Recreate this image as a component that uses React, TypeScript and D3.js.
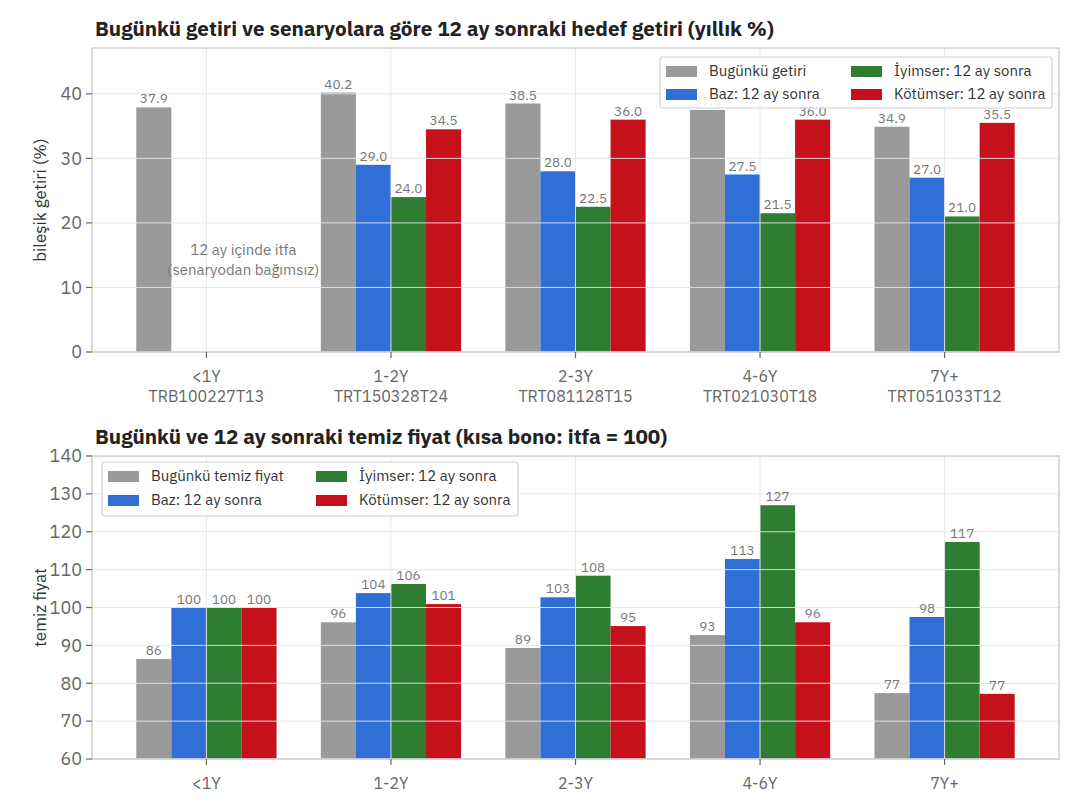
import { useEffect, useRef } from 'react';
import * as d3 from 'd3';

const categories = ['<1Y', '1-2Y', '2-3Y', '4-6Y', '7Y+'];
const bondCodes = ['TRB100227T13', 'TRT150328T24', 'TRT081128T15', 'TRT021030T18', 'TRT051033T12'];

// top panel: yields (%)
const yieldNow = [37.9, 40.2, 38.5, 37.5, 34.9];
const yieldBase = [null, 29.0, 28.0, 27.5, 27.0];
const yieldBull = [null, 24.0, 22.5, 21.5, 21.0];
const yieldBear = [null, 34.5, 36.0, 36.0, 35.5];
const yieldTicks = [0, 10, 20, 30, 40];

// bottom panel: clean prices
const priceNow = [86.4, 96.1, 89.3, 92.7, 77.4];
const priceBase = [100, 103.8, 102.7, 112.8, 97.5];
const priceBull = [100, 106.2, 108.4, 127.0, 117.3];
const priceBear = [100, 100.9, 95.1, 96.1, 77.2];
const priceTicks = [60, 70, 80, 90, 100, 110, 120, 130, 140];

const topLegend = ['Bugünkü getiri', 'Baz: 12 ay sonra', 'İyimser: 12 ay sonra', 'Kötümser: 12 ay sonra'];
const bottomLegend = ['Bugünkü temiz fiyat', 'Baz: 12 ay sonra', 'İyimser: 12 ay sonra', 'Kötümser: 12 ay sonra'];

const colors = ['#9a9a9a', '#2f6fd6', '#2e7d32', '#c4111c'];
const FONT = "'IBM Plex Sans', 'Noto Sans', 'Open Sans', sans-serif";

const W = 1080;
const H = 810;
const BAR_W = 0.19;

export default function App() {
  const svgRef = useRef<SVGSVGElement>(null);

  useEffect(() => {
    if (!svgRef.current) return;
    const svg = d3.select(svgRef.current);
    svg.selectAll('*').remove();

    const x = d3.scaleLinear().domain([-0.62, 4.62]).range([92, 1059]);
    const bw = x(BAR_W) - x(0);

    const drawPanel = (opts: {
      y: d3.ScaleLinear<number, number>;
      ticks: number[];
      series: (number | null)[][];
      fmt: (v: number) => string;
      title: string;
      titleY: number;
      ylabel: string;
      xLabels: string[][];
      legend: string[];
      legendBox: { x: number; y: number; w: number; h: number; col2: number; rowGap: number };
    }) => {
      const { y, ticks, series } = opts;
      const [y0, y1] = y.range();
      const g = svg.append('g');

      g.append('rect')
        .attr('x', x.range()[0]).attr('y', y1)
        .attr('width', x.range()[1] - x.range()[0]).attr('height', y0 - y1)
        .attr('fill', '#fff');

      // bars
      series.forEach((vals, j) => {
        vals.forEach((v, i) => {
          if (v == null) return;
          const cx = x(i + (j - 1.5) * BAR_W);
          g.append('rect')
            .attr('x', cx - bw / 2)
            .attr('y', y(v))
            .attr('width', bw)
            .attr('height', y0 - y(v))
            .attr('fill', colors[j]);
        });
      });

      // grid (drawn over the bars)
      g.selectAll('.gh').data(ticks).enter().append('line')
        .attr('x1', x.range()[0]).attr('x2', x.range()[1])
        .attr('y1', (d) => y(d)).attr('y2', (d) => y(d))
        .attr('stroke', '#e6e6e6').attr('stroke-width', 1).attr('opacity', 0.9);
      g.selectAll('.gv').data(categories).enter().append('line')
        .attr('x1', (_d, i) => x(i)).attr('x2', (_d, i) => x(i))
        .attr('y1', y1).attr('y2', y0)
        .attr('stroke', '#e6e6e6').attr('stroke-width', 1).attr('opacity', 0.9);

      // value labels
      series.forEach((vals, j) => {
        vals.forEach((v, i) => {
          if (v == null) return;
          g.append('text')
            .attr('x', x(i + (j - 1.5) * BAR_W))
            .attr('y', y(v) - 4)
            .attr('text-anchor', 'middle')
            .attr('font-family', FONT).attr('font-size', 13.5)
            .attr('fill', '#777')
            .text(opts.fmt(v));
        });
      });

      // spines
      g.append('rect')
        .attr('x', x.range()[0]).attr('y', y1)
        .attr('width', x.range()[1] - x.range()[0]).attr('height', y0 - y1)
        .attr('fill', 'none').attr('stroke', '#cfcfcf').attr('stroke-width', 1.5);

      // y ticks
      ticks.forEach((t) => {
        g.append('line')
          .attr('x1', x.range()[0] - 6).attr('x2', x.range()[0])
          .attr('y1', y(t)).attr('y2', y(t))
          .attr('stroke', '#666').attr('stroke-width', 1.2);
        g.append('text')
          .attr('x', x.range()[0] - 10).attr('y', y(t))
          .attr('dy', '0.35em').attr('text-anchor', 'end')
          .attr('font-family', FONT).attr('font-size', 18)
          .attr('fill', '#666')
          .text(t);
      });

      // x ticks
      opts.xLabels.forEach((lines, i) => {
        g.append('line')
          .attr('x1', x(i)).attr('x2', x(i))
          .attr('y1', y0).attr('y2', y0 + 6)
          .attr('stroke', '#666').attr('stroke-width', 1.2);
        lines.forEach((s, k) => {
          g.append('text')
            .attr('x', x(i)).attr('y', y0 + 30 + k * 20)
            .attr('text-anchor', 'middle')
            .attr('font-family', FONT).attr('font-size', 16)
            .attr('fill', '#666')
            .text(s);
        });
      });

      // y label
      g.append('text')
        .attr('transform', `translate(46,${(y0 + y1) / 2}) rotate(-90)`)
        .attr('text-anchor', 'middle')
        .attr('font-family', FONT).attr('font-size', 17)
        .attr('fill', '#333')
        .text(opts.ylabel);

      // title
      g.append('text')
        .attr('x', 95).attr('y', opts.titleY)
        .attr('font-family', FONT).attr('font-size', 20.7).attr('font-weight', 'bold')
        .attr('fill', '#222')
        .text(opts.title);

      // legend
      const lb = opts.legendBox;
      const lg = g.append('g').attr('transform', `translate(${lb.x},${lb.y})`);
      lg.append('rect')
        .attr('width', lb.w).attr('height', lb.h).attr('rx', 3)
        .attr('fill', 'rgba(255,255,255,0.85)').attr('stroke', '#d0d0d0').attr('stroke-width', 1.2);
      opts.legend.forEach((name, j) => {
        const col = j < 2 ? 0 : 1;
        const row = j % 2;
        const lx = 6 + col * lb.col2;
        const ly = 14 + row * lb.rowGap;
        lg.append('rect')
          .attr('x', lx).attr('y', ly - 5)
          .attr('width', 31).attr('height', 11)
          .attr('fill', colors[j]);
        lg.append('text')
          .attr('x', lx + 43).attr('y', ly)
          .attr('dy', '0.35em')
          .attr('font-family', FONT).attr('font-size', 15)
          .attr('fill', '#333')
          .text(name);
      });

      return g;
    };

    const yTop = d3.scaleLinear().domain([0, 47.1]).range([352, 48]);
    const top = drawPanel({
      y: yTop,
      ticks: yieldTicks,
      series: [yieldNow, yieldBase, yieldBull, yieldBear],
      fmt: (v) => d3.format('.1f')(v),
      title: 'Bugünkü getiri ve senaryolara göre 12 ay sonraki hedef getiri (yıllık %)',
      titleY: 36,
      ylabel: 'bileşik getiri (%)',
      xLabels: categories.map((c, i) => [c, bondCodes[i]]),
      legend: topLegend,
      legendBox: { x: 660, y: 57, w: 392, h: 51, col2: 185, rowGap: 23 },
    });

    top.append('text')
      .attr('x', x(0.2)).attr('y', 255)
      .attr('text-anchor', 'middle')
      .attr('font-family', FONT).attr('font-size', 15)
      .attr('fill', '#777')
      .text('12 ay içinde itfa');
    top.append('text')
      .attr('x', x(0.2)).attr('y', 275)
      .attr('text-anchor', 'middle')
      .attr('font-family', FONT).attr('font-size', 15)
      .attr('fill', '#777')
      .text('(senaryodan bağımsız)');

    const yBot = d3.scaleLinear().domain([60, 140]).range([759, 456]);
    drawPanel({
      y: yBot,
      ticks: priceTicks,
      series: [priceNow, priceBase, priceBull, priceBear],
      fmt: (v) => d3.format('.0f')(v),
      title: 'Bugünkü ve 12 ay sonraki temiz fiyat (kısa bono: itfa = 100)',
      titleY: 444,
      ylabel: 'temiz fiyat',
      xLabels: categories.map((c) => [c]),
      legend: bottomLegend,
      legendBox: { x: 102, y: 462, w: 416, h: 54, col2: 208, rowGap: 24 },
    });
  }, []);

  return (
    <svg
      ref={svgRef}
      width={W}
      height={H}
      style={{ position: 'absolute', left: 0, top: 0, display: 'block', background: '#fff' }}
    />
  );
}
